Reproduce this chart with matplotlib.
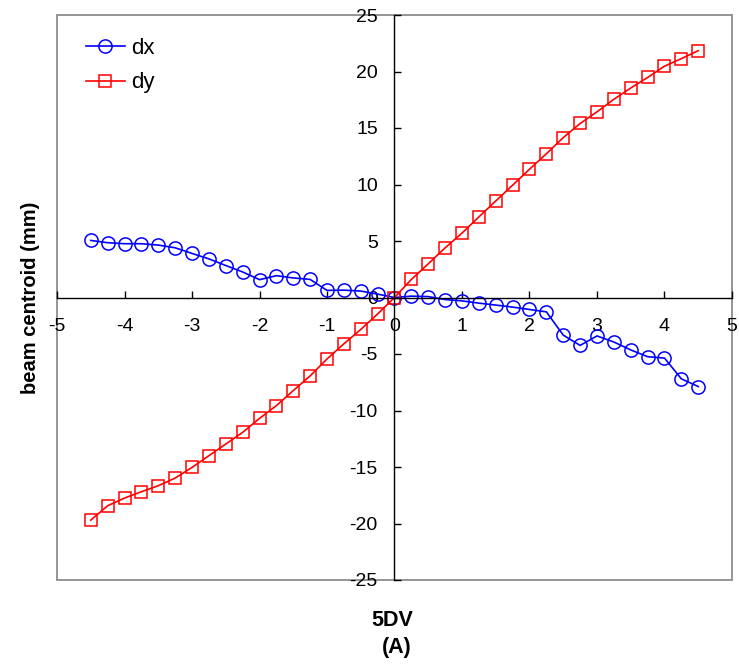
import matplotlib
matplotlib.use("Agg")
import matplotlib.pyplot as plt
import numpy as np

plt.rcParams['font.family'] = ['Liberation Sans', 'DejaVu Sans']

# Corrector current (A)
current = [-4.5, -4.25, -4.0, -3.75, -3.5, -3.25, -3.0, -2.75, -2.5, -2.25,
           -2.0, -1.75, -1.5, -1.25, -1.0, -0.75, -0.5, -0.25, 0.0,
           0.25, 0.5, 0.75, 1.0, 1.25, 1.5, 1.75, 2.0, 2.25,
           2.5, 2.75, 3.0, 3.25, 3.5, 3.75, 4.0, 4.25, 4.5]

# Horizontal centroid shift (mm)
dx = [5.05, 4.85, 4.76, 4.76, 4.64, 4.4, 3.9, 3.42, 2.83, 2.26,
      1.58, 1.93, 1.73, 1.6, 0.63, 0.65, 0.57, 0.3, 0.0,
      0.12, 0.08, -0.18, -0.3, -0.5, -0.67, -0.85, -1.06, -1.27,
      -3.33, -4.24, -3.4, -3.94, -4.64, -5.24, -5.36, -7.2, -7.88]

# Vertical centroid shift (mm)
dy = [-19.7, -18.43, -17.75, -17.19, -16.66, -15.98, -15.04, -14.0, -12.97, -11.94,
      -10.7, -9.57, -8.24, -6.94, -5.44, -4.1, -2.83, -1.46, 0.0,
      1.6, 2.98, 4.39, 5.7, 7.13, 8.54, 9.94, 11.35, 12.72,
      14.15, 15.4, 16.43, 17.54, 18.54, 19.47, 20.47, 21.14, 21.84]

x_ticks = [-5, -4, -3, -2, -1, 0, 1, 2, 3, 4, 5]
y_ticks = [-25, -20, -15, -10, -5, 0, 5, 10, 15, 20, 25]

W, H = 739, 664
fig = plt.figure(figsize=(W / 100, H / 100), dpi=100)
ax = fig.add_axes([57 / W, 1 - 580 / H, (732 - 57) / W, (580 - 15) / H])

ax.plot(current, dx, color='#0000ff', lw=1.2, marker='o', ms=9.5,
        mfc='none', mec='#0000ff', mew=1.1, label='dx')
ax.plot(current, dy, color='#ff0000', lw=1.2, marker='s', ms=8.5,
        mfc='none', mec='#ff0000', mew=1.1, label='dy')

ax.set_xlim(-5, 5)
ax.set_ylim(-25, 25)
ax.set_xticks(x_ticks)
ax.set_yticks(y_ticks)
ax.set_xticklabels([str(v) for v in x_ticks])
ax.set_yticklabels([str(v) for v in y_ticks])

# gray outer frame
for side in ['top', 'right']:
    ax.spines[side].set_visible(False)
ax.add_patch(plt.Rectangle((0, 0), 1, 1, transform=ax.transAxes, fill=False,
                           ec='#8c8c8c', lw=1.3, clip_on=False, zorder=0.5))

# axes crossing at the origin
ax.spines['left'].set_position(('data', 0))
ax.spines['bottom'].set_position(('data', 0))
ax.spines['left'].set_color('black')
ax.spines['bottom'].set_color('black')
ax.spines['left'].set_linewidth(1.0)
ax.spines['bottom'].set_linewidth(1.0)

ax.tick_params(axis='x', direction='in', length=5, width=1, labelsize=14, pad=15)
ax.tick_params(axis='y', direction='in', length=5, width=1, labelsize=14, pad=12)

ax.set_ylabel('beam centroid (mm)', fontsize=14.5, fontweight='bold')
ax.yaxis.set_label_coords((30 - 57) / (732 - 57), 0.5)
ax.yaxis.label.set_va('center')
fig.text(392 / W, 1 - 620 / H, '5DV', ha='center', va='center',
         fontsize=15.5, fontweight='bold')
fig.text(397 / W, 1 - 647 / H, '(A)', ha='center', va='center',
         fontsize=15.5, fontweight='bold')

ax.legend(loc='upper left', bbox_to_anchor=(86 / W, 1 - 38 / H),
          bbox_transform=fig.transFigure, frameon=False, borderpad=0,
          borderaxespad=0, fontsize=16, numpoints=1, handlelength=1.75,
          handletextpad=0.3, labelspacing=0.6)

fig.savefig('out.png', dpi=100)
